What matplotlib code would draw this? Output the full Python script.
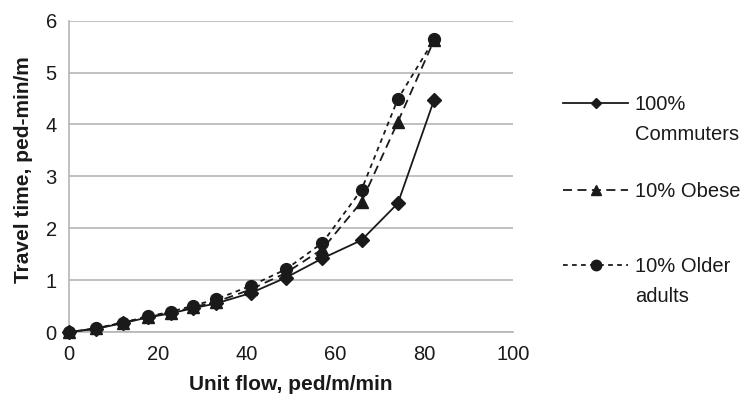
import matplotlib
matplotlib.use("Agg")
import matplotlib.pyplot as plt
from matplotlib.lines import Line2D

plt.rcParams['font.family'] = ['Liberation Sans', 'DejaVu Sans']

# Data
unit_flow = [0, 6, 12, 17.7, 22.9, 28, 33.1, 40.9, 48.9, 57.1, 65.9, 74.1, 82.3]
commuters = [0, 0.06, 0.17, 0.28, 0.36, 0.46, 0.55, 0.75, 1.05, 1.42, 1.77, 2.48, 4.48]
obese = [0, 0.07, 0.18, 0.29, 0.37, 0.48, 0.58, 0.82, 1.14, 1.60, 2.51, 4.05, 5.63]
older = [0, 0.07, 0.18, 0.30, 0.39, 0.51, 0.63, 0.89, 1.21, 1.72, 2.74, 4.49, 5.64]

series_names = ["100%\nCommuters", "10% Obese", "10% Older\nadults"]
x_ticks = [0, 20, 40, 60, 80, 100]
y_ticks = [0, 1, 2, 3, 4, 5, 6]

W, H = 747, 398
fig = plt.figure(figsize=(W / 100, H / 100), dpi=100)
ax = fig.add_axes([69.3 / W, 1 - 332 / H, (512.7 - 69.3) / W, (332 - 20.7) / H])

black = "#1a1a1a"
grid = "#b5b5b5"

styles = [
    dict(linestyle='-', marker='D', markersize=6.8),
    dict(linestyle=(0, (5, 3)), marker='^', markersize=8.5),
    dict(linestyle=(0, (2.6, 2.4)), marker='o', markersize=8.5),
]
legend_msize = [5.5, 7.5, 7.5]
data = [commuters, obese, older]
for ys, st in zip(data, styles):
    ax.plot(unit_flow, ys, color=black, lw=1.3, markerfacecolor=black,
            markeredgecolor=black, zorder=3, clip_on=False, **st)

ax.set_xlim(0, 100)
ax.set_ylim(0, 6)
ax.set_xticks(x_ticks)
ax.set_yticks(y_ticks)
ax.yaxis.grid(True, color=grid, lw=1.2)
ax.set_axisbelow(True)
for s in ['top', 'right']:
    ax.spines[s].set_visible(False)
ax.spines['left'].set_color(grid)
ax.spines['left'].set_linewidth(1.2)
ax.spines['bottom'].set_color(grid)
ax.spines['bottom'].set_linewidth(1.2)
ax.tick_params(axis='both', length=0, labelsize=14.5, colors='#1a1a1a')
ax.tick_params(axis='x', pad=9)
ax.tick_params(axis='y', pad=9)

ax.set_xlabel("Unit flow, ped/m/min", fontsize=15, fontweight='bold', color=black, labelpad=8)
ax.set_ylabel("Travel time, ped-min/m", fontsize=15, fontweight='bold', color=black)
ax.yaxis.set_label_coords(-0.082, 0.52)

# Legend (drawn manually to align handle with first text line)
legend_y = [103, 190, 265]
for name, st, ms, ly in zip(series_names, styles, legend_msize, legend_y):
    yy = 1 - ly / H
    ln = Line2D([563 / W, 628 / W], [yy, yy], transform=fig.transFigure, color=black,
                lw=1.3, linestyle=st['linestyle'])
    fig.add_artist(ln)
    mk = Line2D([595.5 / W], [yy], transform=fig.transFigure, color=black,
                marker=st['marker'], markersize=ms, linestyle='none')
    fig.add_artist(mk)
    for i, line in enumerate(name.split("\n")):
        fig.text(635 / W, 1 - (ly + 30 * i) / H, line, fontsize=14.5, color=black,
                 va='center_baseline', ha='left')

fig.savefig("out.png", dpi=100)
